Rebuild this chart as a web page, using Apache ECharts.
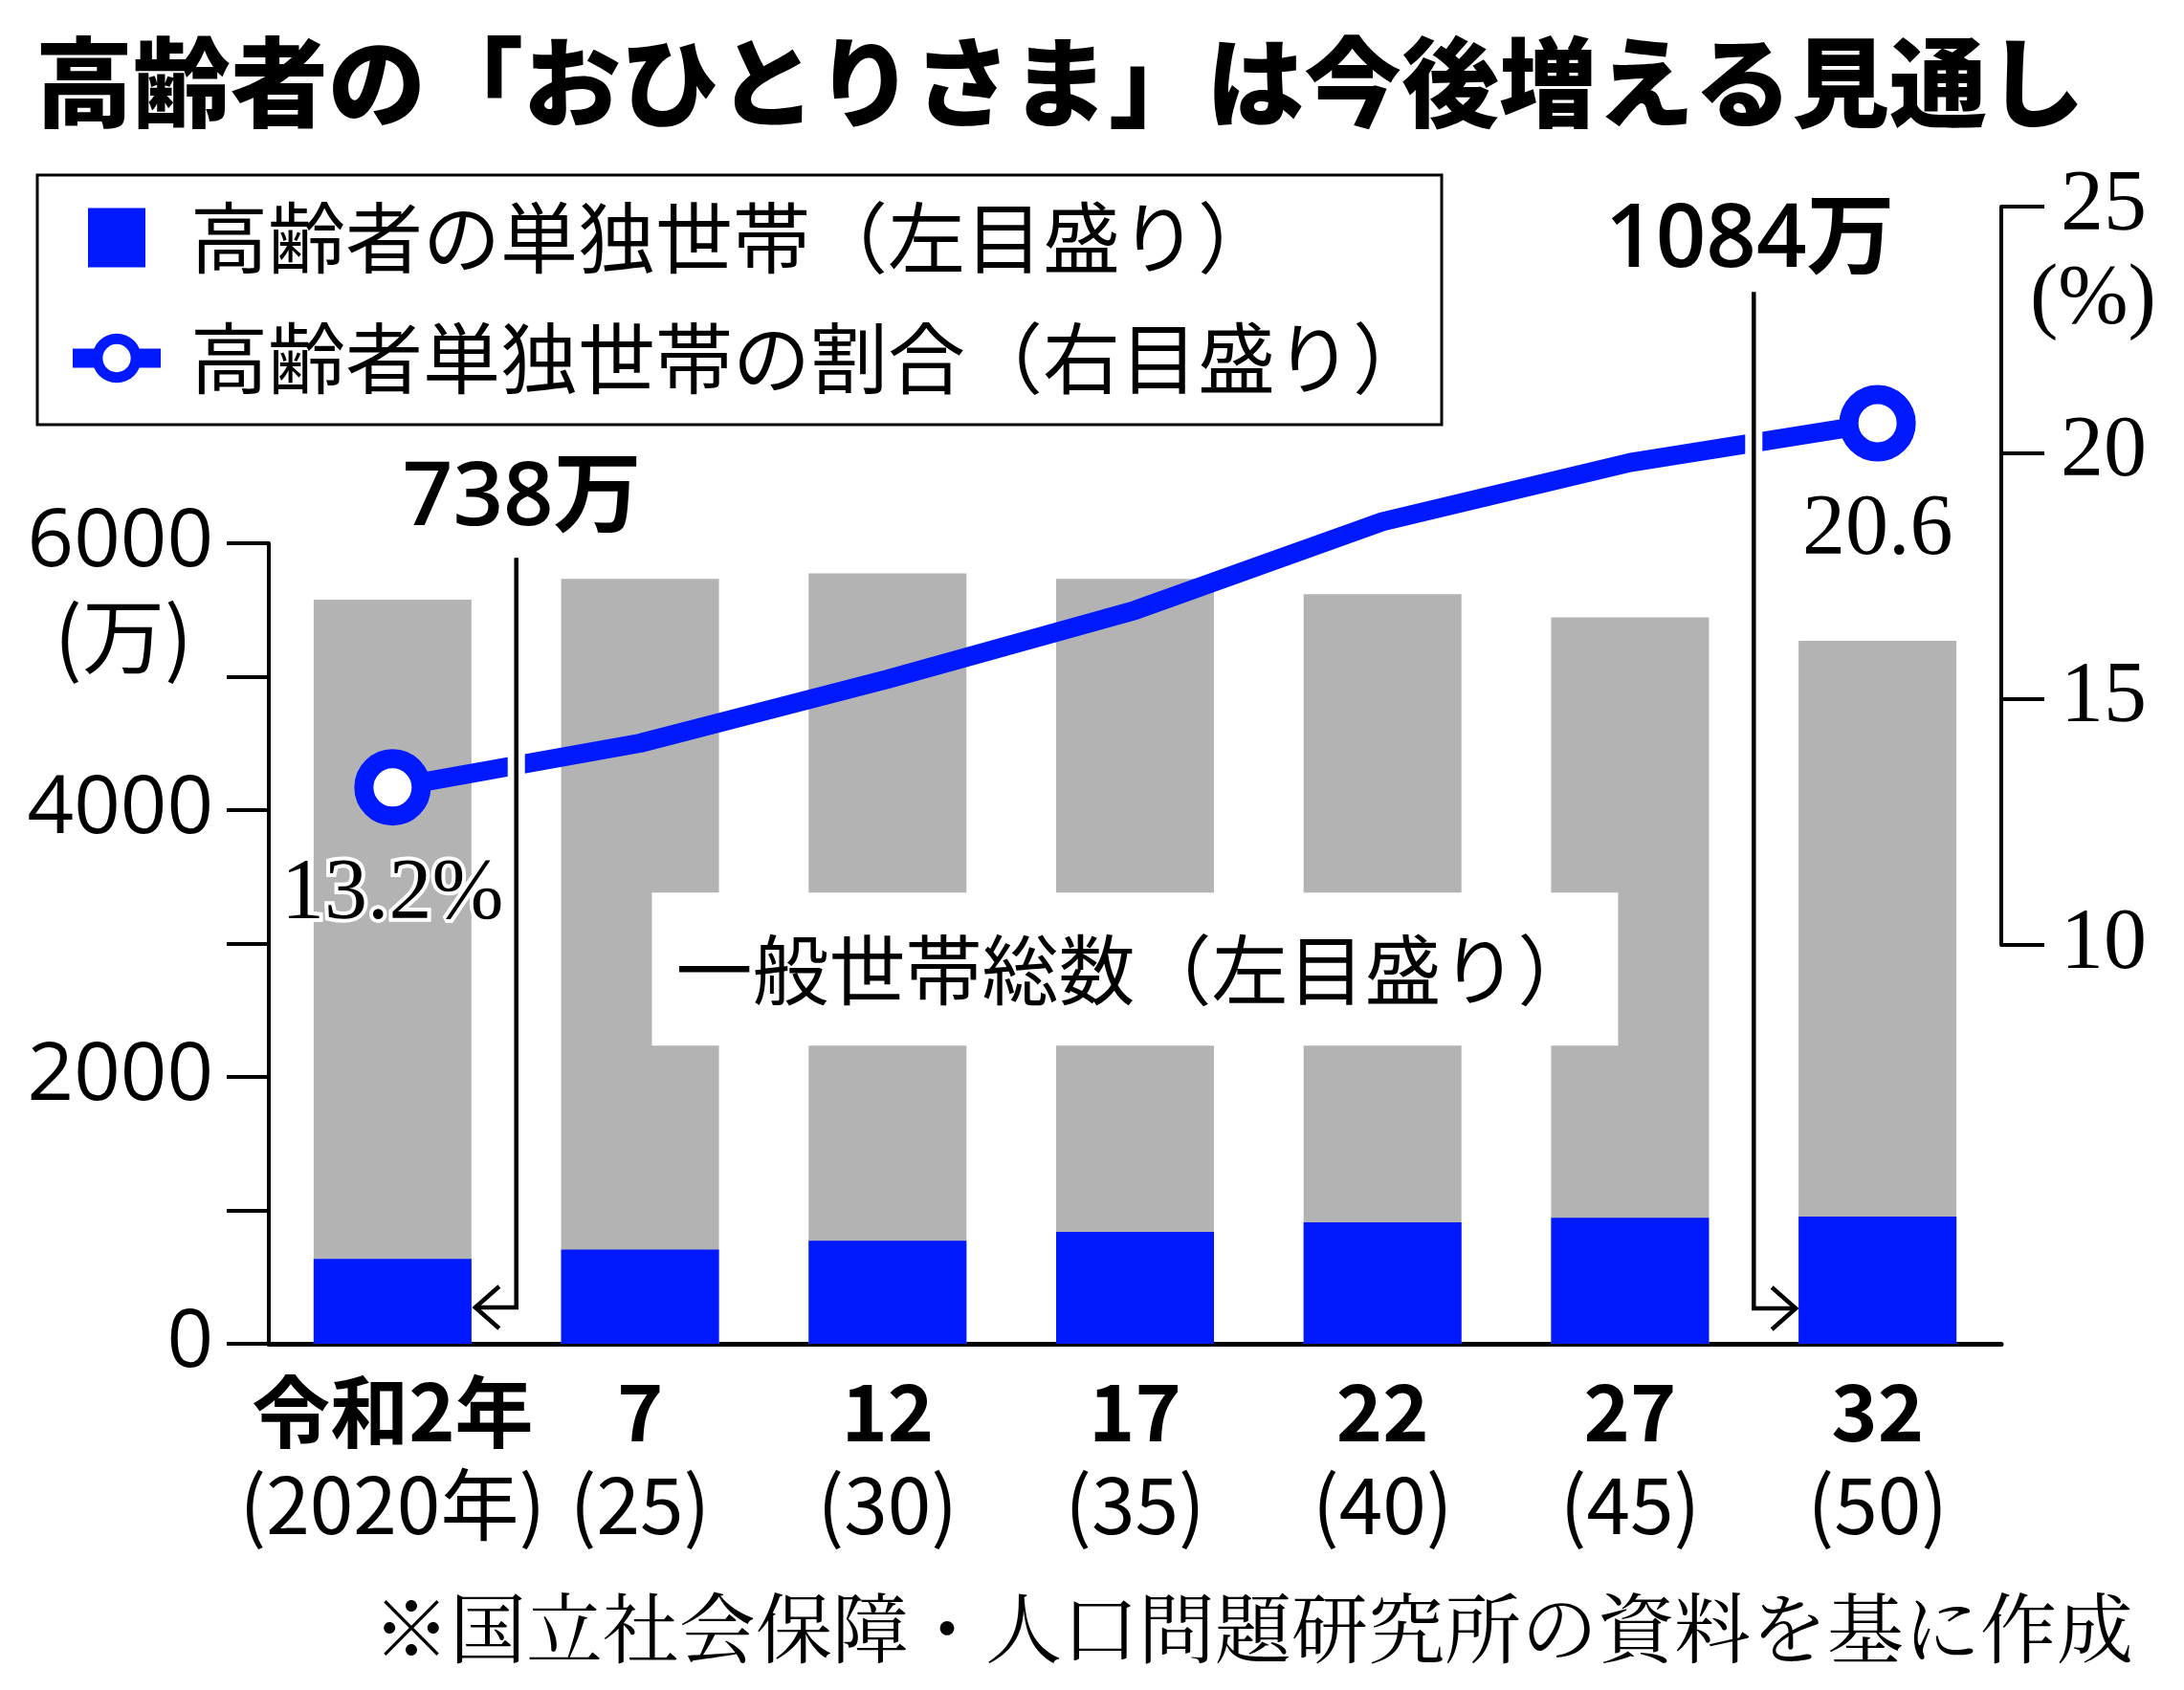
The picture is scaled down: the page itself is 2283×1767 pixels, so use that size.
<!DOCTYPE html>
<html>
<head>
<meta charset="utf-8">
<script src="https://cdn.jsdelivr.net/npm/echarts@6/dist/echarts.min.js"></script>
<style>
html,body{margin:0;padding:0;background:#fff;}
#chart{width:2283px;height:1767px;}
</style>
</head>
<body>
<div id="chart"></div>
<script>
// ---- data ----
const categories = ['令和2年', '7', '12', '17', '22', '27', '32'];
const westernYears = ['2020年', '25', '30', '35', '40', '45', '50'];
const totalHouseholds = [5577, 5733, 5774, 5733, 5618, 5445, 5268];   // 一般世帯総数 (万)
const elderlySingle = [636, 706, 772, 838, 911, 944, 953];            // 高齢者の単独世帯 (万, as drawn)
const singleShare = [13.2, 14.1, 15.4, 16.8, 18.6, 19.8, 20.6];       // 割合 (%)
const calloutLabels = ['738万', '1084万'];
const leftTicks = [0, 2000, 4000, 6000];
const rightTicks = [10, 15, 20, 25];

const TITLE = '高齢者の「おひとりさま」は今後増える見通し';
const NAME_SINGLE = '高齢者の単独世帯（左目盛り）';
const NAME_SHARE = '高齢者単独世帯の割合（右目盛り）';
const NAME_TOTAL = '一般世帯総数（左目盛り）';
const SOURCE = '※国立社会保障・人口問題研究所の資料を基に作成';

// ---- styles ----
const BLUE = '#0019ff';
const GRAY = '#b3b3b3';
const JP = '"Noto Sans CJK JP", "Noto Sans", sans-serif';
const NUM = '"Open Sans", "Noto Sans CJK JP", sans-serif';
const SERIF = '"Liberation Serif", "DejaVu Serif", serif';
const SERIF_JP = '"Noto Serif CJK JP", "Noto Sans CJK JP", serif';

const chart = echarts.init(document.getElementById('chart'), null, {renderer: 'canvas'});
const last = singleShare.length - 1;

const option = {
  animation: false,
  backgroundColor: '#fff',
  title: [
    {text: TITLE, left: 32, top: 30,
     textStyle: {fontFamily: JP, fontSize: 102, fontWeight: 900, color: '#000', lineHeight: 102}},
    {text: SOURCE, right: 48, top: 1652,
     textStyle: {fontFamily: SERIF_JP, fontSize: 80, fontWeight: 'normal', color: '#000', lineHeight: 90}}
  ],
  legend: {
    orient: 'vertical', left: 39, top: 183,
    padding: [25, 12, 29, 37],
    itemGap: 45, itemWidth: 92, itemHeight: 62,
    borderColor: '#000', borderWidth: 3,
    selectedMode: false,
    textStyle: {fontFamily: JP, fontSize: 81, color: '#000', lineHeight: 62, padding: [0, 0, 0, 26]},
    data: [
      {name: NAME_SINGLE, icon: 'path://M0,0H60V62H0Z', itemStyle: {color: BLUE, borderWidth: 0}},
      {name: NAME_SHARE,
       icon: 'path://M0,15.5H25V35.5H0Z M66,15.5H91V35.5H66Z M20,25.5A25.5,25.5 0 1,1 71,25.5A25.5,25.5 0 1,1 20,25.5Z M31,25.5A14.5,14.5 0 1,0 60,25.5A14.5,14.5 0 1,0 31,25.5Z',
       itemStyle: {color: BLUE, borderWidth: 0}}
    ]
  },
  grid: [
    {left: 281, right: 191, top: 568, bottom: 362},
    {left: 281, right: 191, top: 216, bottom: 779}
  ],
  xAxis: [
    {type: 'category', gridIndex: 0, data: categories,
     axisLine: {lineStyle: {color: '#000', width: 5}},
     axisTick: {show: false},
     axisLabel: {interval: 0, margin: 22, color: '#000',
       formatter: (v, i) => '{a|' + v + '}\n{b|(' + westernYears[i] + ')}',
       rich: {
         a: {fontFamily: JP, fontSize: 82, fontWeight: 'bold', lineHeight: 97, color: '#000'},
         b: {fontFamily: JP, fontSize: 82, lineHeight: 97, color: '#000'}
       }}},
    {type: 'category', gridIndex: 1, data: categories, show: false}
  ],
  yAxis: [
    {type: 'value', gridIndex: 0, position: 'left', min: 0, max: 6000, interval: 1000,
     name: '(万)', nameLocation: 'end', nameGap: -97,
     nameTextStyle: {fontFamily: JP, fontSize: 86, color: '#000', align: 'right', verticalAlign: 'middle', padding: [0, 80, 0, 0]},
     axisLine: {show: true, lineStyle: {color: '#000', width: 4}},
     axisTick: {show: true, length: 44, lineStyle: {color: '#000', width: 4}},
     splitLine: {show: false},
     axisLabel: {margin: 58, fontFamily: NUM, fontSize: 85, color: '#000',
       formatter: v => leftTicks.indexOf(v) >= 0 ? String(v) : ''}},
    {type: 'value', gridIndex: 1, position: 'right', min: 10, max: 25, interval: 5,
     name: '(%)', nameLocation: 'end', nameGap: -98,
     nameTextStyle: {fontFamily: SERIF, fontSize: 88, color: '#000', align: 'left', verticalAlign: 'middle', padding: [0, 0, 0, 30]},
     axisLine: {show: true, lineStyle: {color: '#000', width: 4}},
     axisTick: {show: true, length: 45, lineStyle: {color: '#000', width: 4}},
     splitLine: {show: false},
     axisLabel: {margin: 62, fontFamily: SERIF, fontSize: 90, color: '#000',
       formatter: v => rightTicks.indexOf(v) >= 0 ? String(v) : ''}}
  ],
  series: [
    {name: NAME_TOTAL, type: 'bar', xAxisIndex: 0, yAxisIndex: 0, barWidth: 165,
     itemStyle: {color: GRAY}, data: totalHouseholds, z: 2},
    {name: NAME_SINGLE, type: 'bar', xAxisIndex: 0, yAxisIndex: 0, barWidth: 165, barGap: '-100%',
     itemStyle: {color: BLUE}, data: elderlySingle, z: 3},
    {name: NAME_SHARE, type: 'line', xAxisIndex: 1, yAxisIndex: 1, z: 5,
     lineStyle: {color: BLUE, width: 20},
     itemStyle: {color: '#fff', borderColor: BLUE, borderWidth: 20},
     symbolSize: 60,
     data: singleShare.map((v, i) => {
       const ends = (i === 0 || i === last);
       return {
         value: v,
         symbol: ends ? 'circle' : 'none',
         label: {show: ends, position: 'bottom', distance: 28,
           formatter: i === 0 ? '{c}%' : '{c}',
           fontFamily: SERIF, fontSize: 90, color: '#000', lineHeight: 90,
           textBorderColor: '#fff', textBorderWidth: 8}
       };
     })}
  ]
};
chart.setOption(option);

// ---- annotations positioned from the axes ----
const P = (i, v) => chart.convertToPixel({gridIndex: 0}, [i, v]);
const catX = i => P(i, 0)[0];
const yOf = v => P(0, v)[1];
const halfBar = 165 / 2;

function callout(boundaryLeft, targetIdx, topVal, arrowVal, labelVal, text, pointRight) {
  const x = (catX(boundaryLeft) + catX(boundaryLeft + 1)) / 2;
  const yTop = yOf(topVal), yArrow = yOf(arrowVal);
  const tipX = pointRight ? catX(targetIdx) - halfBar - 3 : catX(targetIdx) + halfBar + 4;
  const d = pointRight ? -25 : 25;
  return [
    {type: 'line', z: 50, shape: {x1: x, y1: yTop, x2: x, y2: yArrow}, style: {stroke: '#fff', lineWidth: 18}},
    {type: 'polyline', z: 51, shape: {points: [[x, yTop], [x, yArrow], [tipX, yArrow]]}, style: {stroke: '#000', lineWidth: 4.5, fill: null}},
    {type: 'polyline', z: 51, shape: {points: [[tipX + d, yArrow - 22], [tipX, yArrow], [tipX + d, yArrow + 22]]}, style: {stroke: '#000', lineWidth: 4.5, fill: null}},
    {type: 'text', z: 52, x: x + (pointRight ? -4 : 6), y: yOf(labelVal),
     style: {text: text, fontFamily: NUM, fontSize: 92, fontWeight: 600, fill: '#000', align: 'center', verticalAlign: 'middle'}}
  ];
}

const boxPos = P(3, 2809);
const graphics = [].concat(
  callout(0, 0, 5890, 272, 6327, calloutLabels[0], false),
  callout(5, 6, 7883, 265, 8262, calloutLabels[1], true),
  [{type: 'text', z: 40, x: boxPos[0], y: boxPos[1],
    style: {text: NAME_TOTAL, fontFamily: JP, fontSize: 80, fill: '#000', align: 'center', verticalAlign: 'middle',
            backgroundColor: '#fff', padding: [40, 25, 40, 25], lineHeight: 80}}]
);
chart.setOption({graphic: graphics});
</script>
</body>
</html>
